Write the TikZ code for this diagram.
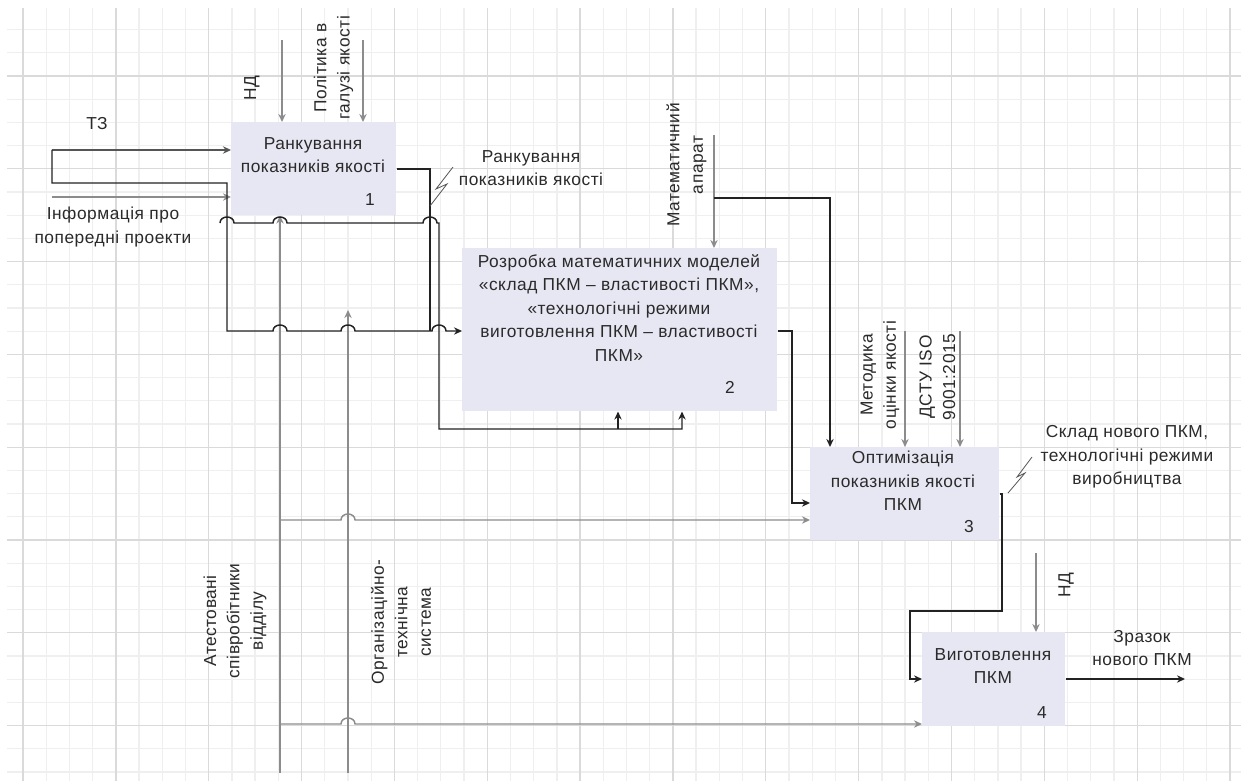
\documentclass[tikz,border=0pt]{standalone}
\usepackage{fontspec}
\setmainfont{Liberation Sans}[LetterSpace=3]
\usetikzlibrary{arrows.meta,calc}
\definecolor{boxfill}{HTML}{E7E7F3}
\definecolor{gminor}{HTML}{EFEFEF}
\definecolor{gmajor}{HTML}{DADADA}
\definecolor{gline}{HTML}{8C8C8C}
\definecolor{dline}{HTML}{555555}
\definecolor{bline}{HTML}{222222}
\definecolor{txt}{HTML}{2A2A2A}
\begin{document}
\begin{tikzpicture}[x=0.75pt,y=-0.75pt,
  minorgrid/.style={gminor,line width=1pt},
  majorgrid/.style={gmajor,line width=1pt},
  fn/.style={rectangle,fill=boxfill,draw=none,anchor=north west,inner sep=0pt},
  lbl/.style={text=txt,align=center,inner sep=0pt,font=\fontsize{13}{17.6}\selectfont},
  rlbl/.style={lbl,rotate=90},
  blk/.style={bline,line width=1.1pt},
  gry/.style={gline,line width=1.1pt},
  dgry/.style={dline,line width=1.1pt},
  bolt/.style={dline,line width=0.6pt},
  tip/.style={-{Stealth[length=6pt,width=5.5pt]}},
]
\useasboundingbox[fill=white] (0,0) rectangle (1241,781);
% grid
\foreach \i in {0,...,52} \draw[minorgrid] ({23+23.212*\i},8) -- ({23+23.212*\i},781);
\foreach \j in {-2,...,30} \draw[minorgrid] (7,{76+23.2*\j}) -- (1241,{76+23.2*\j});
\foreach \i in {0,4,...,52} \draw[majorgrid] ({23+23.212*\i},8) -- ({23+23.212*\i},781);
\foreach \j in {0,4,...,28} \draw[majorgrid] (7,{76+23.2*\j}) -- (1241,{76+23.2*\j});

% boxes
\node[fn,minimum width=123.75pt,minimum height=69.75pt] (b1) at (231,122) {};
\node[fn,minimum width=236.25pt,minimum height=122.25pt] (b2) at (462,248) {};
\node[fn,minimum width=141.75pt,minimum height=69.75pt] (b3) at (810,447) {};
\node[fn,minimum width=107.25pt,minimum height=70.5pt] (b4) at (922,632) {};

\node[lbl] (t1) at (313,155) {Ранкування\\показників якості};
\node[lbl] (t2) at (619,308) {Розробка математичних моделей\\«склад ПКМ – властивості ПКМ»,\\«технологічні режими\\виготовлення ПКМ – властивості\\ПКМ»};
\node[lbl] (t3) at (903,481) {Оптимізація\\показників якості\\ПКМ};
\node[lbl] (t4) at (993,666) {Виготовлення\\ПКМ};
\node[lbl] (n1) at (370,200) {1};
\node[lbl] (n2) at (730,387) {2};
\node[lbl] (n3) at (969,527) {3};
\node[lbl] (n4) at (1042,713) {4};

% labels
\node[lbl] (ltz) at (97,124) {ТЗ};
\node[lbl] (linf) at (113,227) {Інформація про\\попередні проекти};
\node[rlbl] (lnd1) at (252,88) {НД};
\node[rlbl] (lpol) at (333.5,68) {Політика в\\галузі якості};
\node[lbl] (lrank) at (531,168) {Ранкування\\показників якості};
\node[rlbl] (lmat) at (686.5,165) {Математичний\\апарат};
\node[rlbl] (lmet) at (880,375) {Методика\\оцінки якості};
\node[rlbl] (ldstu) at (937.5,377) {ДСТУ ISO\\9001:2015};
\node[lbl] (lsk) at (1127,457) {Склад нового ПКМ,\\технологічні режими\\виробництва};
\node[rlbl] (lnd4) at (1066,585) {НД};
\node[lbl] (lzr) at (1142,648) {Зразок\\нового ПКМ};
\node[rlbl] (lat) at (235,621) {Атестовані\\співробітники\\відділу};
\node[rlbl] (lorg) at (401,622) {Організаційно-\\технічна\\система};

% helper coordinates
\coordinate (tz) at (52,150);
\coordinate (inf) at (52,197);
\coordinate (br) at (52,183);
\coordinate (y331) at (0,331);
\coordinate (y169) at (0,169);
\coordinate (y494) at (0,494);
\coordinate (y503) at (0,503);
\coordinate (y520) at (0,520);
\coordinate (y679) at (0,679);
\coordinate (y724) at (0,724);
\coordinate (nd1) at (282,40);
\coordinate (pol) at (363,40);
\coordinate (mat) at (714,135);
\coordinate (met) at (905,331);
\coordinate (dstu) at (960,331);
\coordinate (nd4) at (1036,553);
\coordinate (zr) at (1185,679);
\coordinate (m1) at (280,773);
\coordinate (m2) at (348,773);
\coordinate (m2e) at (348,310);

% mechanisms
\draw[gry,tip] (m1) -- (m1 |- b1.south);
\draw[gry,tip] (m2) -- (m2e);
\draw[gry,tip] (280,520) -- (341,520) .. controls +(0,-8) and +(0,-8) .. (355,520) -- (b3.west |- y520);
\draw[gry,tip] (280,724) -- (341,724) .. controls +(0,-8) and +(0,-8) .. (355,724) -- (b4.west |- y724);

% controls
\draw[gry,tip] (nd1) -- (nd1 |- b1.north);
\draw[gry,tip] (pol) -- (pol |- b1.north);
\draw[gry,tip] (mat) -- (mat |- b2.north);
\draw[blk,tip] (714,198) -- (830,198) -- (830,0 |- b3.north);
\draw[gry,tip] (met) -- (met |- b3.north);
\draw[gry,tip] (dstu) -- (dstu |- b3.north);
\draw[gry,tip] (nd4) -- (nd4 |- b4.north);

% inputs
\draw[dgry,tip] (tz) -- (tz -| b1.west);
\draw[gry,tip] (inf) -- (inf -| b1.west);
\draw[blk,tip] (tz) -- (br) -- (227,183) -- (227,331) -- (273,331)
  .. controls +(0,-8) and +(0,-8) .. (287,331) -- (341,331)
  .. controls +(0,-8) and +(0,-8) .. (355,331) -- (432,331)
  .. controls +(0,-8) and +(0,-8) .. (446,331) -- (b2.west |- y331);
\draw[blk] (b1.east |- y169) -- (430,169) -- (430,331);
\draw[blk,tip] (220,223) .. controls +(0,-8) and +(0,-8) .. (234,223) -- (273,223)
  .. controls +(0,-8) and +(0,-8) .. (287,223) -- (423,223)
  .. controls +(0,-8) and +(0,-8) .. (437,223) -- (439,223) -- (439,429) -- (682,429) -- (682,0 |- b2.south);
\draw[blk,tip] (618,429) -- (618,0 |- b2.south);
\draw[blk,tip] (b2.east |- y331) -- (792,331) -- (792,503) -- (b3.west |- y503);
\draw[blk,tip] (b3.east |- y494) -- (1002,494) -- (1002,611) -- (910,611) -- (910,679) -- (b4.west |- y679);
\draw[blk,tip] (b4.east |- y679) -- (zr);

% squiggles
\draw[bolt] (453,167) -- (436,189) -- (447,184) -- (430,206);
\draw[bolt] (1032,457) -- (1017,477) -- (1025,473) -- (1008,493);
\end{tikzpicture}
\end{document}
